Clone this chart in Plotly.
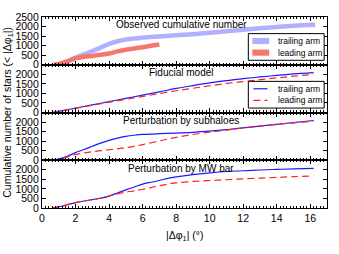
import plotly.graph_objects as go
from plotly.subplots import make_subplots

# ---- data ----
obs_trail_x = [0.7, 1, 1.5, 2, 2.5, 3, 3.5, 4, 4.5, 5, 5.5, 6, 7, 8, 9, 10, 11, 12, 13, 14, 15, 16.3]
obs_trail_y = [0, 40, 180, 380, 540, 720, 900, 1090, 1230, 1320, 1380, 1420, 1480, 1540, 1600, 1670, 1750, 1830, 1910, 1980, 2040, 2090]
obs_lead_x = [0.7, 1, 1.5, 2, 2.5, 3, 3.5, 4, 4.5, 5, 5.5, 6, 6.5, 7]
obs_lead_y = [0, 30, 170, 330, 410, 460, 520, 590, 700, 790, 850, 920, 990, 1060]

fid_x = [0.6, 1, 2, 3, 4, 5, 6, 7, 8, 9, 10, 11, 12, 13, 14, 15, 16.2]
fid_trail = [0, 60, 230, 400, 570, 740, 910, 1080, 1260, 1410, 1550, 1670, 1770, 1860, 1940, 2020, 2090]
fid_lead = [0, 60, 220, 380, 540, 690, 840, 990, 1140, 1270, 1400, 1520, 1620, 1720, 1810, 1900, 1990]

sub_x = [0.6, 1, 1.5, 2, 2.5, 3, 3.5, 4, 4.5, 5, 5.5, 6, 7, 8, 9, 10, 11, 12, 13, 14, 15, 16.2]
sub_trail = [0, 60, 200, 400, 560, 730, 900, 1040, 1160, 1250, 1310, 1350, 1390, 1420, 1460, 1520, 1600, 1700, 1790, 1880, 1970, 2080]
sub_lead = [0, 50, 170, 300, 380, 450, 500, 550, 600, 660, 730, 820, 1010, 1200, 1350, 1470, 1580, 1690, 1790, 1880, 1960, 2050]

bar_x = [0.6, 1, 2, 3, 3.5, 4, 4.5, 5, 5.5, 6, 6.5, 7, 7.5, 8, 9, 10, 11, 12, 13, 14, 15, 16.2]
bar_trail = [0, 60, 280, 440, 510, 620, 780, 950, 1100, 1250, 1350, 1440, 1550, 1630, 1750, 1840, 1910, 1950, 1990, 2020, 2045, 2070]
bar_lead = [0, 60, 280, 440, 520, 630, 740, 830, 900, 970, 1070, 1170, 1250, 1320, 1390, 1440, 1480, 1525, 1560, 1600, 1640, 1680]

panel_titles = ["Observed cumulative number", "Fiducial model",
                "Perturbation by subhaloes", "Perturbation by MW bar"]
legend_labels = ["trailing arm", "leading arm"]
x_ticks = [0, 2, 4, 6, 8, 10, 12, 14, 16]
y_ticks_top = [0, 500, 1000, 1500, 2000, 2500]
y_ticks = [0, 500, 1000, 1500, 2000]

FONT = "Liberation Sans, Arial, sans-serif"
OBS_TRAIL_C = "#b0b0ff"
OBS_LEAD_C = "#f7766c"
TRAIL_C = "#1a1aff"
LEAD_C = "#ff2020"
DASH = "7px,4px"

fig = make_subplots(rows=4, cols=1, shared_xaxes=True, vertical_spacing=0)

fig.add_trace(go.Scatter(x=obs_trail_x, y=obs_trail_y, mode="lines", name=legend_labels[0],
                         line=dict(color=OBS_TRAIL_C, width=4.5), line_shape="spline",
                         showlegend=False), row=1, col=1)
fig.add_trace(go.Scatter(x=obs_lead_x, y=obs_lead_y, mode="lines", name=legend_labels[1],
                         line=dict(color=OBS_LEAD_C, width=4.5), line_shape="spline",
                         showlegend=False), row=1, col=1)

sets = [(fid_x, fid_trail, fid_lead, 2), (sub_x, sub_trail, sub_lead, 3), (bar_x, bar_trail, bar_lead, 4)]
for xs, tr, ld, r in sets:
    fig.add_trace(go.Scatter(x=xs, y=tr, mode="lines", name=legend_labels[0],
                             line=dict(color=TRAIL_C, width=1.2), line_shape="spline",
                             showlegend=False), row=r, col=1)
    fig.add_trace(go.Scatter(x=xs, y=ld, mode="lines", name=legend_labels[1],
                             line=dict(color=LEAD_C, width=1.2, dash=DASH), line_shape="spline",
                             showlegend=False), row=r, col=1)

for r in range(1, 5):
    fig.update_xaxes(row=r, col=1, range=[0, 17], tickvals=x_ticks, ticks="inside", ticklen=4,
                     tickcolor="black", showline=True, linecolor="black", linewidth=1.2,
                     mirror="allticks", showgrid=False, zeroline=False,
                     showticklabels=(r == 4),
                     minor=dict(dtick=0.2, ticks="inside", ticklen=2, tickcolor="black", showgrid=False),
                     tickfont=dict(family=FONT, size=10.5, color="black"))
    fig.update_yaxes(row=r, col=1, range=[0, 2500], tickvals=(y_ticks_top if r == 1 else y_ticks),
                     ticks="inside", ticklen=4, tickcolor="black", showline=True, linecolor="black",
                     linewidth=1.2, mirror="allticks", showgrid=False, zeroline=False,
                     tickfont=dict(family=FONT, size=10.5, color="black"))
    ax = "" if r == 1 else str(r)
    fig.add_annotation(text=panel_titles[r - 1], xref=f"x{ax} domain", yref=f"y{ax} domain",
                       x=0.488, y=0.99, xanchor="center", yanchor="top", showarrow=False,
                       font=dict(family=FONT, size=10, color="black"))

# ---- hand-made compact legends (panels 1 and 2), in paper coordinates ----
def add_legend(row, patch_style):
    base = 1.0 - 0.25 * row  # bottom of the row in paper coords

    def py(yd):
        return base + 0.25 * yd

    fig.add_shape(type="rect", xref="paper", yref="paper", x0=0.724, x1=0.99,
                  y0=py(0.093), y1=py(0.652),
                  fillcolor="white", line=dict(color="black", width=1), layer="above")
    rows = [0.497, 0.254]
    for i, yc in enumerate(rows):
        if patch_style == "patch":
            col = OBS_TRAIL_C if i == 0 else OBS_LEAD_C
            fig.add_shape(type="rect", xref="paper", yref="paper", x0=0.738, x1=0.797,
                          y0=py(yc - 0.065), y1=py(yc + 0.065), fillcolor=col,
                          line=dict(width=0), layer="above")
        else:
            col = TRAIL_C if i == 0 else LEAD_C
            fig.add_shape(type="line", xref="paper", yref="paper", x0=0.742, x1=0.791,
                          y0=py(yc), y1=py(yc),
                          line=dict(color=col, width=1.2, dash=("solid" if i == 0 else DASH)),
                          layer="above")
        fig.add_annotation(text=legend_labels[i], xref="paper", yref="paper", x=0.822, y=py(yc),
                           xanchor="left", yanchor="middle", showarrow=False,
                           font=dict(family=FONT, size=8.5, color="black"))

add_legend(1, "patch")
add_legend(2, "line")

fig.add_annotation(text="Cumulative number of stars (< |Δφ<sub>1</sub>|)", xref="paper", yref="paper",
                   x=-0.122, y=0.5, xanchor="center", yanchor="middle", textangle=-90, showarrow=False,
                   font=dict(family=FONT, size=10.5, color="black"))
fig.add_annotation(text="|Δφ<sub>1</sub>| (°)", xref="paper", yref="paper",
                   x=0.5, y=-0.1, xanchor="center", yanchor="top", showarrow=False,
                   font=dict(family=FONT, size=10.5, color="black"))

fig.update_layout(
    width=339, height=254,
    margin=dict(l=42, r=12, t=17, b=46),
    paper_bgcolor="white", plot_bgcolor="white",
    showlegend=False,
)

fig.write_html("out.html", config={"displayModeBar": False},
               post_script="document.body.style.margin='0px';document.body.style.overflow='hidden';")
